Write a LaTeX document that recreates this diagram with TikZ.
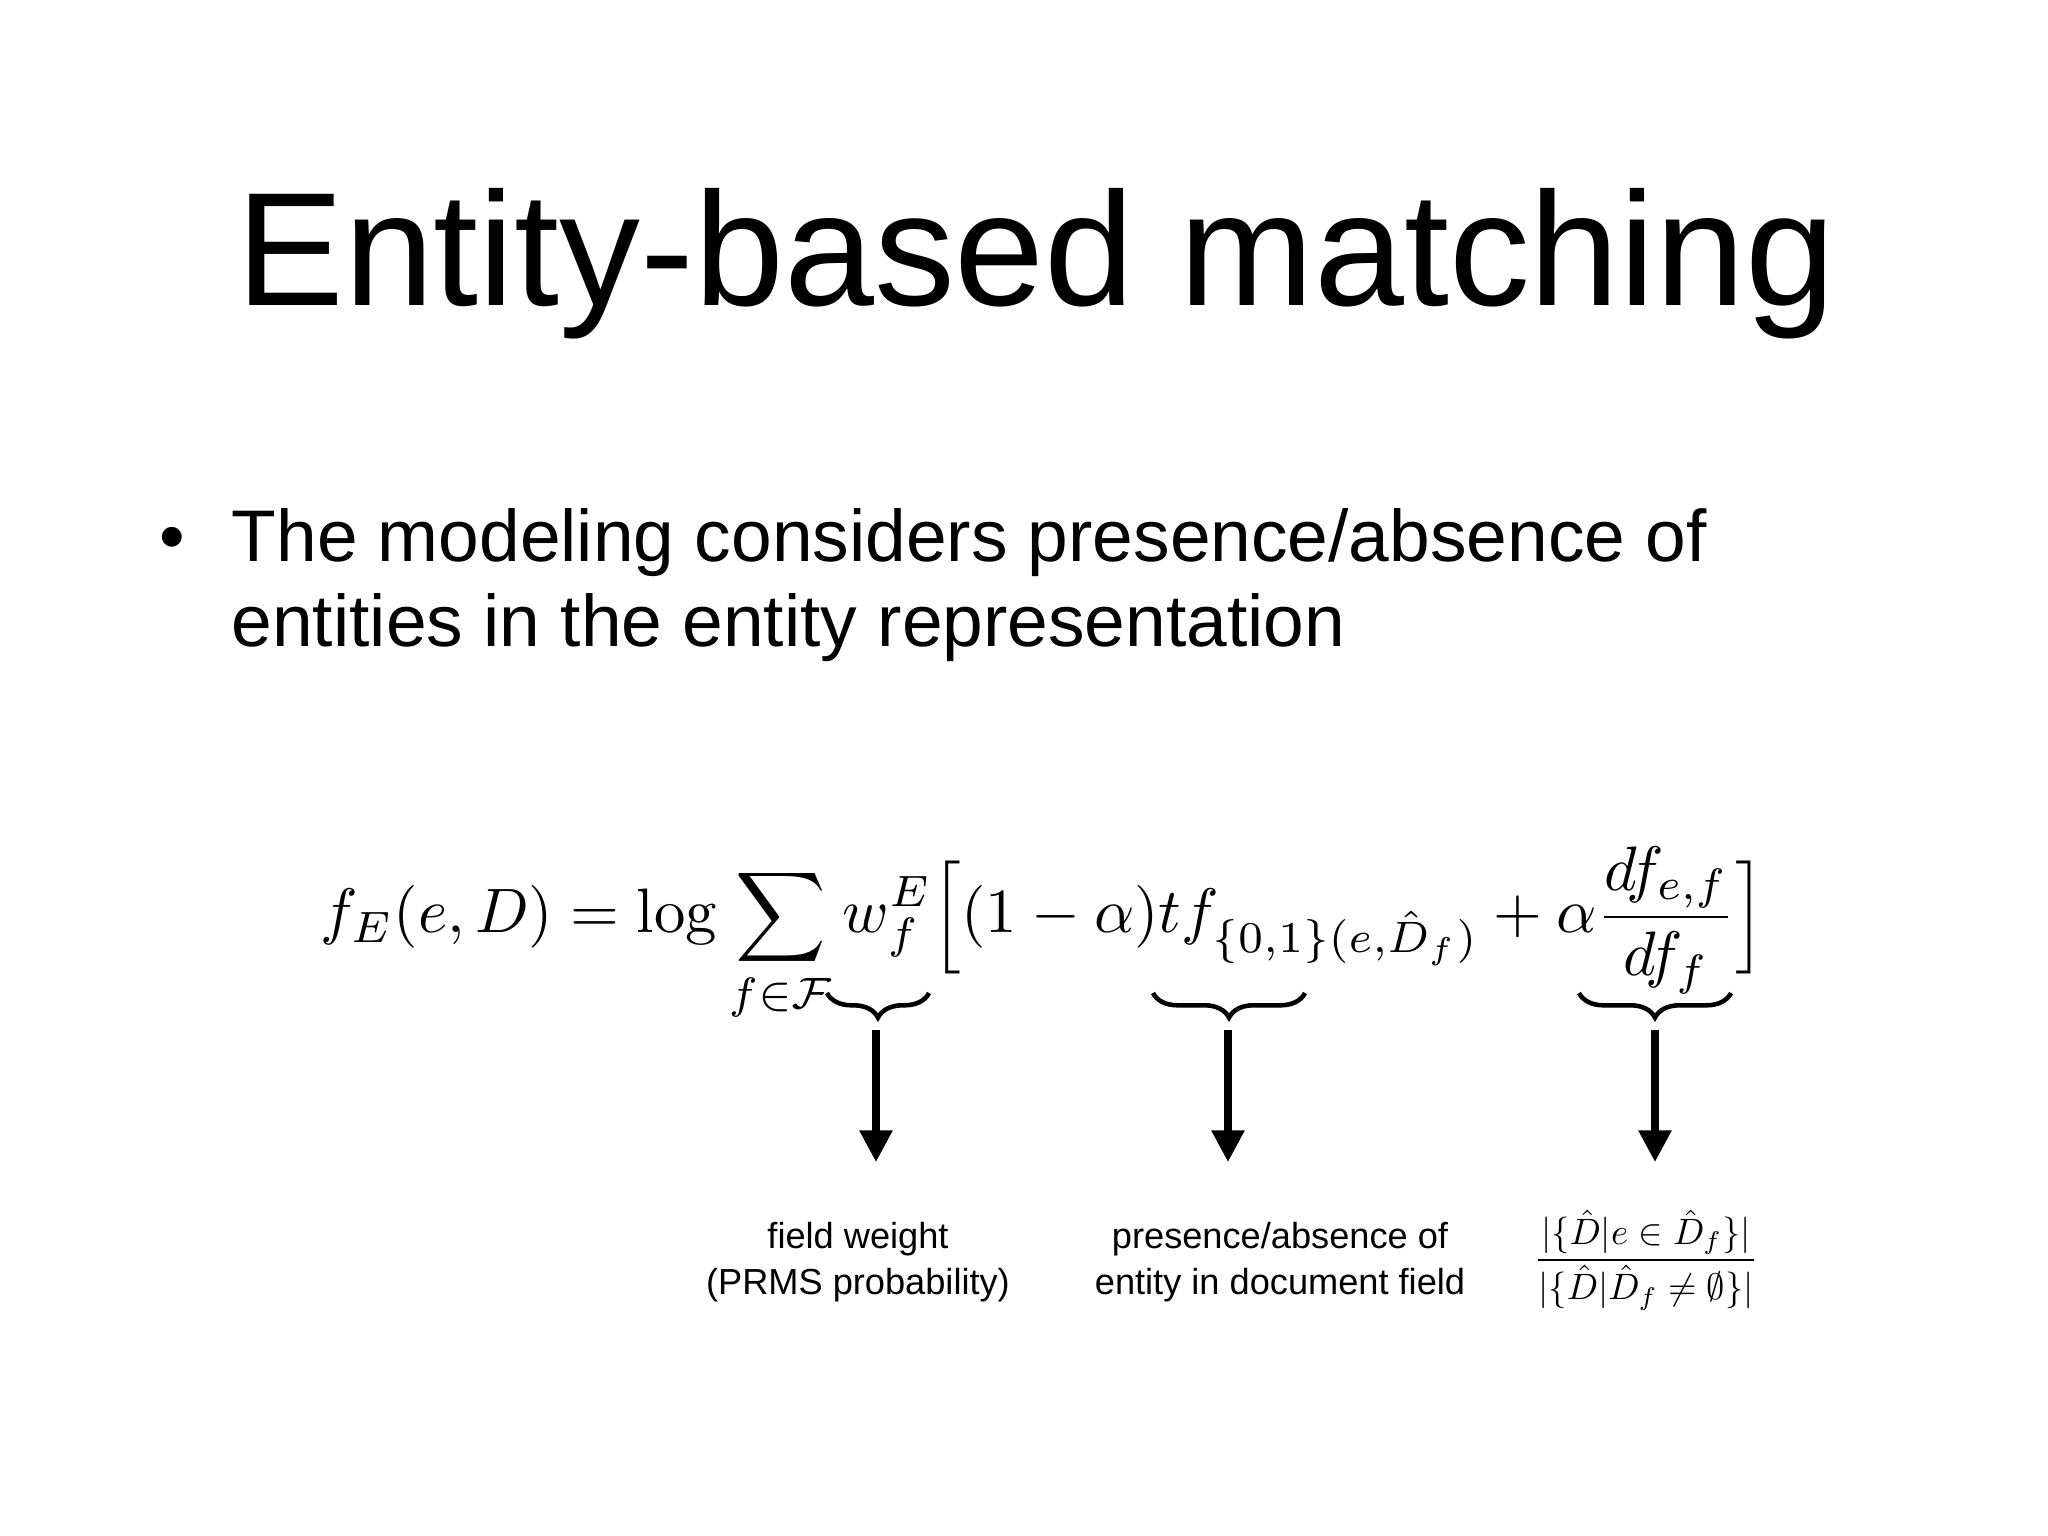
\documentclass[tikz,border=0pt]{standalone}
\usepackage{amsmath,amssymb,graphicx}
\usepackage[no-math]{fontspec}
\setmainfont{Liberation Sans}
\usetikzlibrary{decorations.pathreplacing,arrows.meta}
\begin{document}
\begin{tikzpicture}[x=1cm,y=1cm,
  brc/.style={decorate,decoration={brace,mirror,amplitude=7pt},line width=1.3pt},
  arr/.style={-{Triangle[length=9pt,width=9pt]},line width=2pt},
  lbl/.style={font=\fontsize{10.3}{13}\selectfont,align=center}]
\useasboundingbox (0,0) rectangle (20.48,-15.36);
\node[anchor=base] (title) at (10.36,-3.06) {\fontsize{46}{52}\selectfont Entity-based matching};
\node[anchor=base,inner sep=0] (bul) at (1.72,-5.61) {\fontsize{20.8}{24}\selectfont •};
\node[anchor=base west,inner sep=0] (l1) at (2.31,-5.61) {\fontsize{20.8}{24}\selectfont The modeling considers presence/absence of};
\node[anchor=base west,inner sep=0] (l2) at (2.31,-6.47) {\fontsize{20.8}{24}\selectfont entities in the entity representation};
\node (eq) at (10.43,-9.35) {\resizebox{14.45cm}{!}{$\displaystyle f_E(e,D) = \log\sum_{f\in\mathcal{F}} w_f^E\Big[(1-\alpha)tf_{\{0,1\}(e,\hat{D}_f)}+\alpha\frac{df_{e,f}}{df_f}\Big]$}};
\coordinate (b1a) at (8.27,-9.93); \coordinate (b1b) at (9.29,-9.93);
\coordinate (b2a) at (11.53,-9.93); \coordinate (b2b) at (13.05,-9.93);
\coordinate (b3a) at (15.79,-9.93); \coordinate (b3b) at (17.31,-9.93);
\draw[brc] (b1a) -- (b1b);
\draw[brc] (b2a) -- (b2b);
\draw[brc] (b3a) -- (b3b);
\coordinate (s1) at (8.76,-10.30); \coordinate (e1) at (8.76,-11.62);
\coordinate (s2) at (12.28,-10.30); \coordinate (e2) at (12.28,-11.62);
\coordinate (s3) at (16.55,-10.30); \coordinate (e3) at (16.55,-11.62);
\draw[arr] (s1) -- (e1);
\draw[arr] (s2) -- (e2);
\draw[arr] (s3) -- (e3);
\node[lbl] (t1) at (8.58,-12.62) {field weight\\(PRMS probability)};
\node[lbl] (t2) at (12.80,-12.62) {presence/absence of\\entity in document field};
\node (t3) at (16.46,-12.60) {\resizebox{2.24cm}{!}{$\dfrac{|\{\hat{D}|e\in\hat{D}_f\}|}{|\{\hat{D}|\hat{D}_f\neq\emptyset\}|}$}};
\end{tikzpicture}
\end{document}
